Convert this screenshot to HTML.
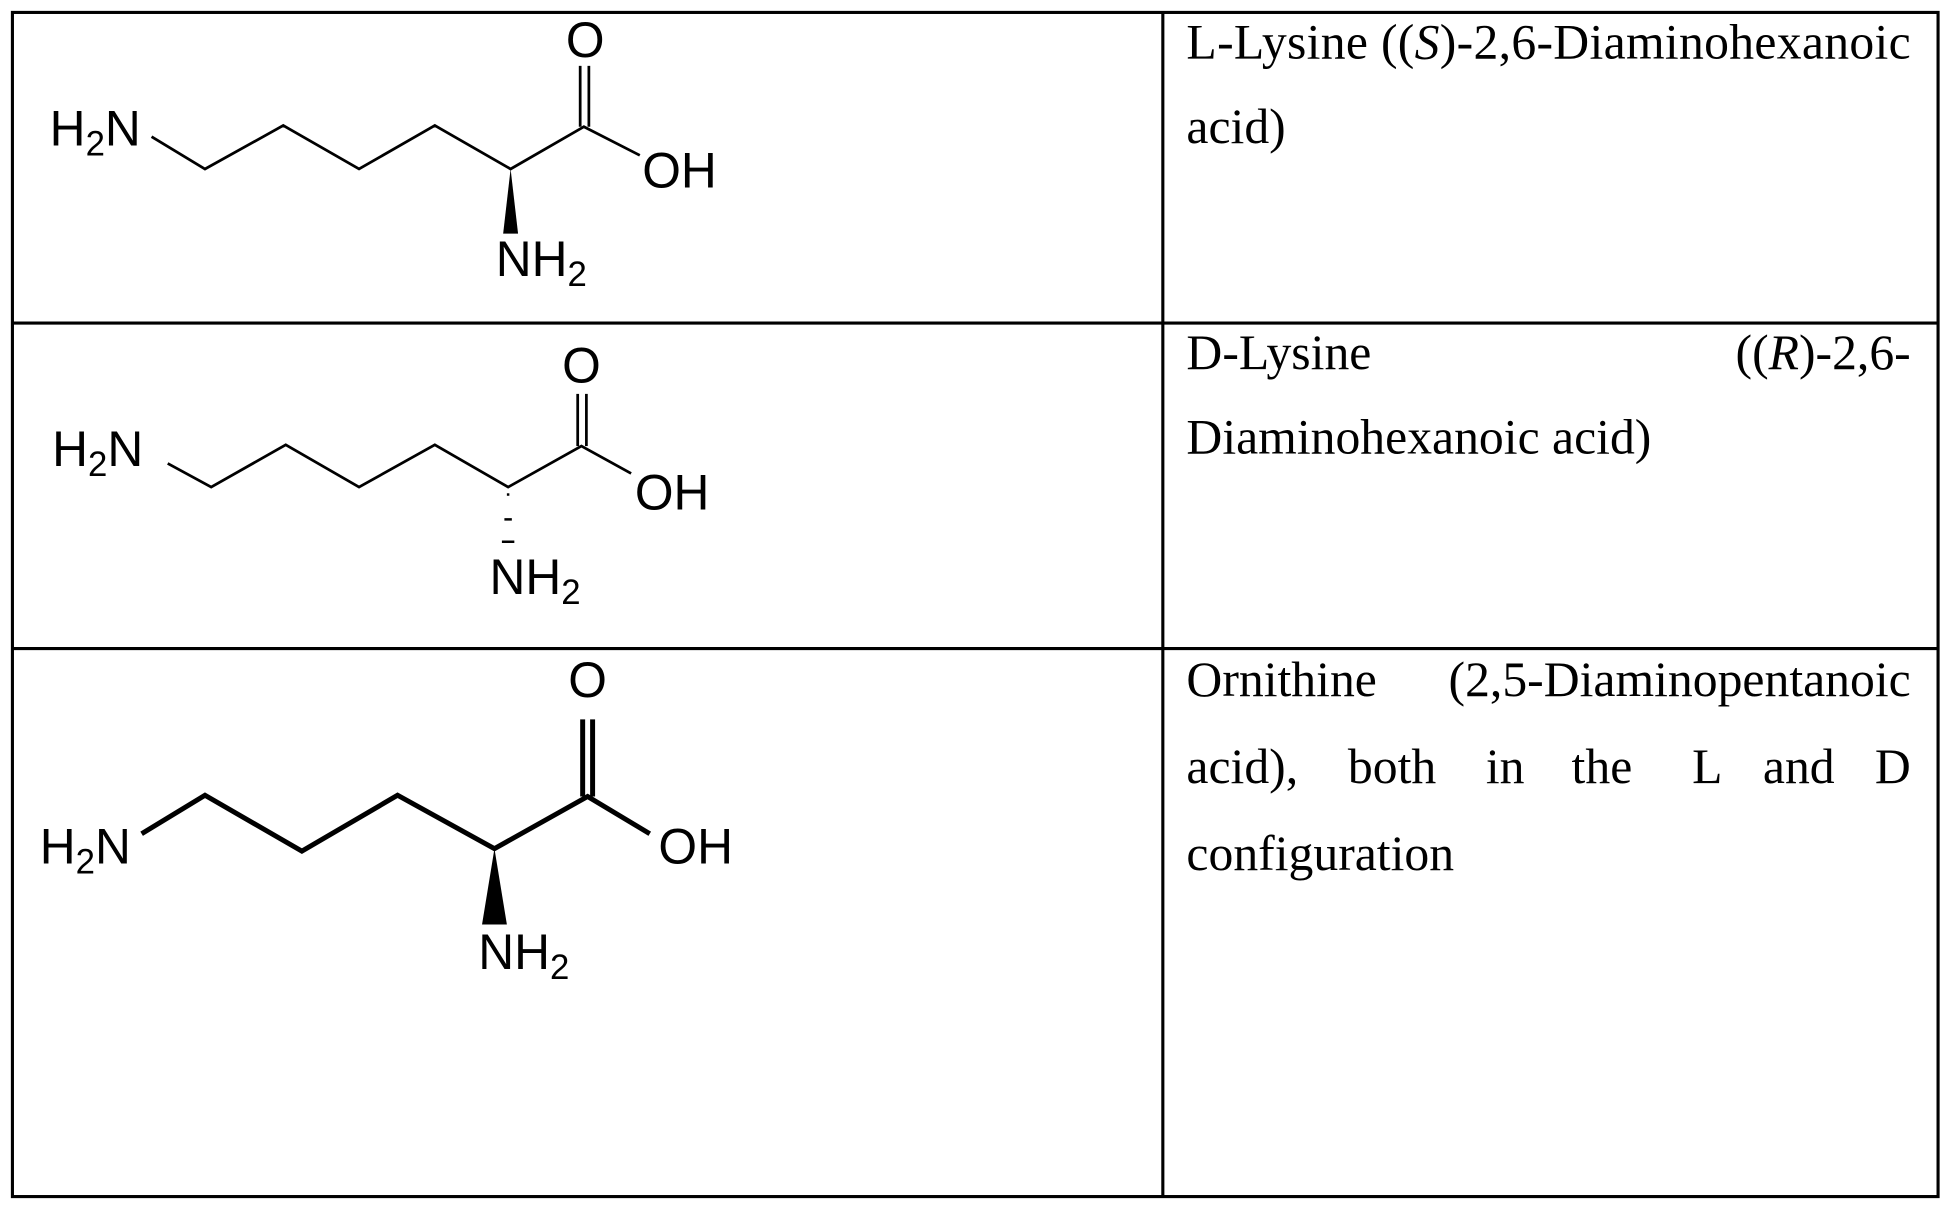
<!DOCTYPE html>
<html><head><meta charset="utf-8"><style>
html,body{margin:0;padding:0;background:#fff;width:1948px;height:1209px;overflow:hidden}
svg{display:block}
.c{font-family:"Liberation Sans",Arial,sans-serif;font-size:40px;fill:#000}
.t{font-family:"Liberation Serif","Times New Roman",serif;font-size:40px;fill:#000}
</style></head><body>
<svg width="1948" height="1209" viewBox="0 0 1568 973" preserveAspectRatio="none" xmlns="http://www.w3.org/2000/svg">
<g stroke="#000" stroke-width="2.5" fill="none">
<rect x="10" y="10" width="1550" height="953"/>
<line x1="936" y1="10" x2="936" y2="963"/>
<line x1="10" y1="260" x2="1560" y2="260"/>
<line x1="10" y1="522" x2="1560" y2="522"/>
</g>
<!-- Row 1: L-Lysine -->
<g stroke="#000" stroke-width="2.2" fill="none" stroke-linejoin="miter">
<polyline points="122,110 165,136 228,101 289,136 350,101 411,136 470,102 515,125"/>
<line x1="467" y1="102" x2="467" y2="53"/>
<line x1="474" y1="102" x2="474" y2="53"/>
</g>
<polygon points="411,136 405,188 417,188" fill="#000"/>
<text class="c" x="40" y="117">H<tspan font-size="28" dy="8">2</tspan><tspan dy="-8">N</tspan></text>
<text class="c" x="471" y="46" text-anchor="middle">O</text>
<text class="c" x="517" y="151">OH</text>
<text class="c" x="399" y="222">NH<tspan font-size="28" dy="8">2</tspan></text>
<!-- Row 2: D-Lysine -->
<g stroke="#000" stroke-width="2.2" fill="none">
<polyline points="135,373 170,392 230,358 289,392 350,358 409,392 468,359 508,381"/>
<line x1="465" y1="359" x2="465" y2="317"/>
<line x1="472" y1="359" x2="472" y2="317"/>
</g>
<g stroke="#000" stroke-width="2">
<line x1="408" y1="398" x2="410" y2="398"/>
<line x1="406" y1="418" x2="412" y2="418"/>
<line x1="404" y1="436" x2="414" y2="436"/>
</g>
<text class="c" x="42" y="375">H<tspan font-size="28" dy="8">2</tspan><tspan dy="-8">N</tspan></text>
<text class="c" x="468" y="308" text-anchor="middle">O</text>
<text class="c" x="511" y="410">OH</text>
<text class="c" x="394" y="478">NH<tspan font-size="28" dy="8">2</tspan></text>
<!-- Row 3: Ornithine -->
<g stroke="#000" stroke-width="4" fill="none">
<polyline points="114,671 165,640 243,685 320,640 398,683 473,641 523,671"/>
<line x1="469" y1="641" x2="469" y2="579"/>
<line x1="477" y1="641" x2="477" y2="579"/>
</g>
<polygon points="398,683 388,744 408,744" fill="#000"/>
<text class="c" x="32" y="695">H<tspan font-size="28" dy="8">2</tspan><tspan dy="-8">N</tspan></text>
<text class="c" x="473" y="561" text-anchor="middle">O</text>
<text class="c" x="530" y="695">OH</text>
<text class="c" x="385" y="780">NH<tspan font-size="28" dy="8">2</tspan></text>
<!-- Right column text -->
<text class="t" x="955" y="47" textLength="583" lengthAdjust="spacing">L-Lysine ((<tspan font-style="italic">S</tspan>)-2,6-Diaminohexanoic</text>
<text class="t" x="955" y="115">acid)</text>
<text class="t" x="955" y="297">D-Lysine</text>
<text class="t" x="1538" y="297" text-anchor="end">((<tspan font-style="italic">R</tspan>)-2,6-</text>
<text class="t" x="955" y="365">Diaminohexanoic acid)</text>
<text class="t" x="955" y="560">Ornithine</text>
<text class="t" x="1538" y="560" text-anchor="end">(2,5-Diaminopentanoic</text>
<text class="t" x="955" y="630">acid),</text>
<text class="t" x="1085" y="630">both</text>
<text class="t" x="1196" y="630">in</text>
<text class="t" x="1265" y="630">the</text>
<text class="t" x="1362" y="630">L</text>
<text class="t" x="1419" y="630">and</text>
<text class="t" x="1538" y="630" text-anchor="end">D</text>
<text class="t" x="955" y="700">configuration</text>
</svg>
</body></html>
